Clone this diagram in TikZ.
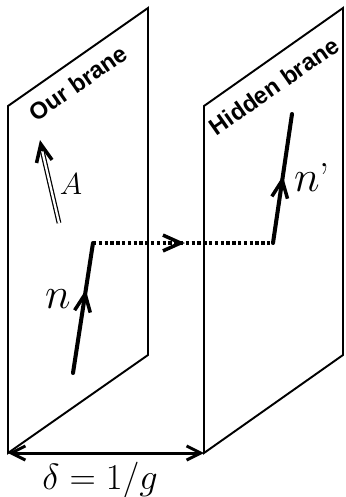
\documentclass[tikz,border=0pt]{standalone}
\usepackage{fontspec}
\newfontfamily\branefont{Liberation Sans}
\usetikzlibrary{arrows.meta,decorations.markings}
\tikzset{
  brane/.style={line width=1.1pt},
  worldline/.style={line width=2.3pt},
  midarrow/.style={postaction={decorate},decoration={markings,
      mark=at position #1 with {\arrow{Straight Barb[length=10pt,width=9pt,line width=2pt]}}}},
  branelabel/.style={font=\branefont\bfseries\fontsize{13.5}{15}\selectfont,rotate=35,inner sep=0pt},
  mathlabel/.style={font=\fontsize{23}{26}\selectfont,inner sep=0pt},
}
\begin{document}
\begin{tikzpicture}[x=0.2mm,y=-0.2mm,line cap=round,line join=miter]
  \useasboundingbox (0,0) rectangle (345,497);
  % the two branes
  \coordinate (ob1) at (8,453);
  \coordinate (ob2) at (8,106);
  \coordinate (ob3) at (148,8);
  \coordinate (ob4) at (148,355);
  \coordinate (hb1) at (204,453);
  \coordinate (hb2) at (204,106);
  \coordinate (hb3) at (343,8);
  \coordinate (hb4) at (343,355);
  \draw[brane] (ob1) -- (ob2) -- (ob3) -- (ob4) -- cycle;
  \draw[brane] (hb1) -- (hb2) -- (hb3) -- (hb4) -- cycle;
  \node[branelabel] (ourlbl) at (78,83) {Our brane};
  \node[branelabel] (hidlbl) at (274,86) {Hidden brane};
  % field A
  \coordinate (abase) at (59,223);
  \coordinate (aneck) at (42,150);
  \coordinate (atip) at (40,140);
  \draw[line width=0.7pt,double,double distance=1.3pt,line cap=butt] (abase) -- (aneck);
  \draw[line width=2pt,-{Straight Barb[length=10pt,width=9pt,line width=2pt]}] (aneck) -- (atip);
  \node[mathlabel,font=\fontsize{18}{20}\selectfont] (alab) at (71,184) {$A$};
  % neutron path
  \coordinate (n0) at (73,373);
  \coordinate (n1) at (93,243);
  \coordinate (n2) at (273,243);
  \coordinate (n3) at (292,114);
  \draw[worldline,midarrow=0.64] (n0) -- (n1);
  \draw[worldline,line width=1.8pt,dash pattern=on 1.9pt off 1.4pt,line cap=butt,midarrow=0.51] (n1) -- (n2);
  \draw[worldline,midarrow=0.52] (n2) -- (n3);
  \node[mathlabel] (nlab) at (58,299) {$n$};
  \node[mathlabel] (nplab) at (312,177) {$n$\textquoteright};
  % separation
  \draw[line width=1.7pt,{Straight Barb[length=8pt,width=8pt,line width=1.7pt]}-{Straight Barb[length=8pt,width=8pt,line width=1.7pt]}] (ob1) -- (hb1);
  \node[mathlabel,font=\fontsize{21}{24}\selectfont] (dlab) at (100,480) {$\delta=1/g$};
\end{tikzpicture}
\end{document}
